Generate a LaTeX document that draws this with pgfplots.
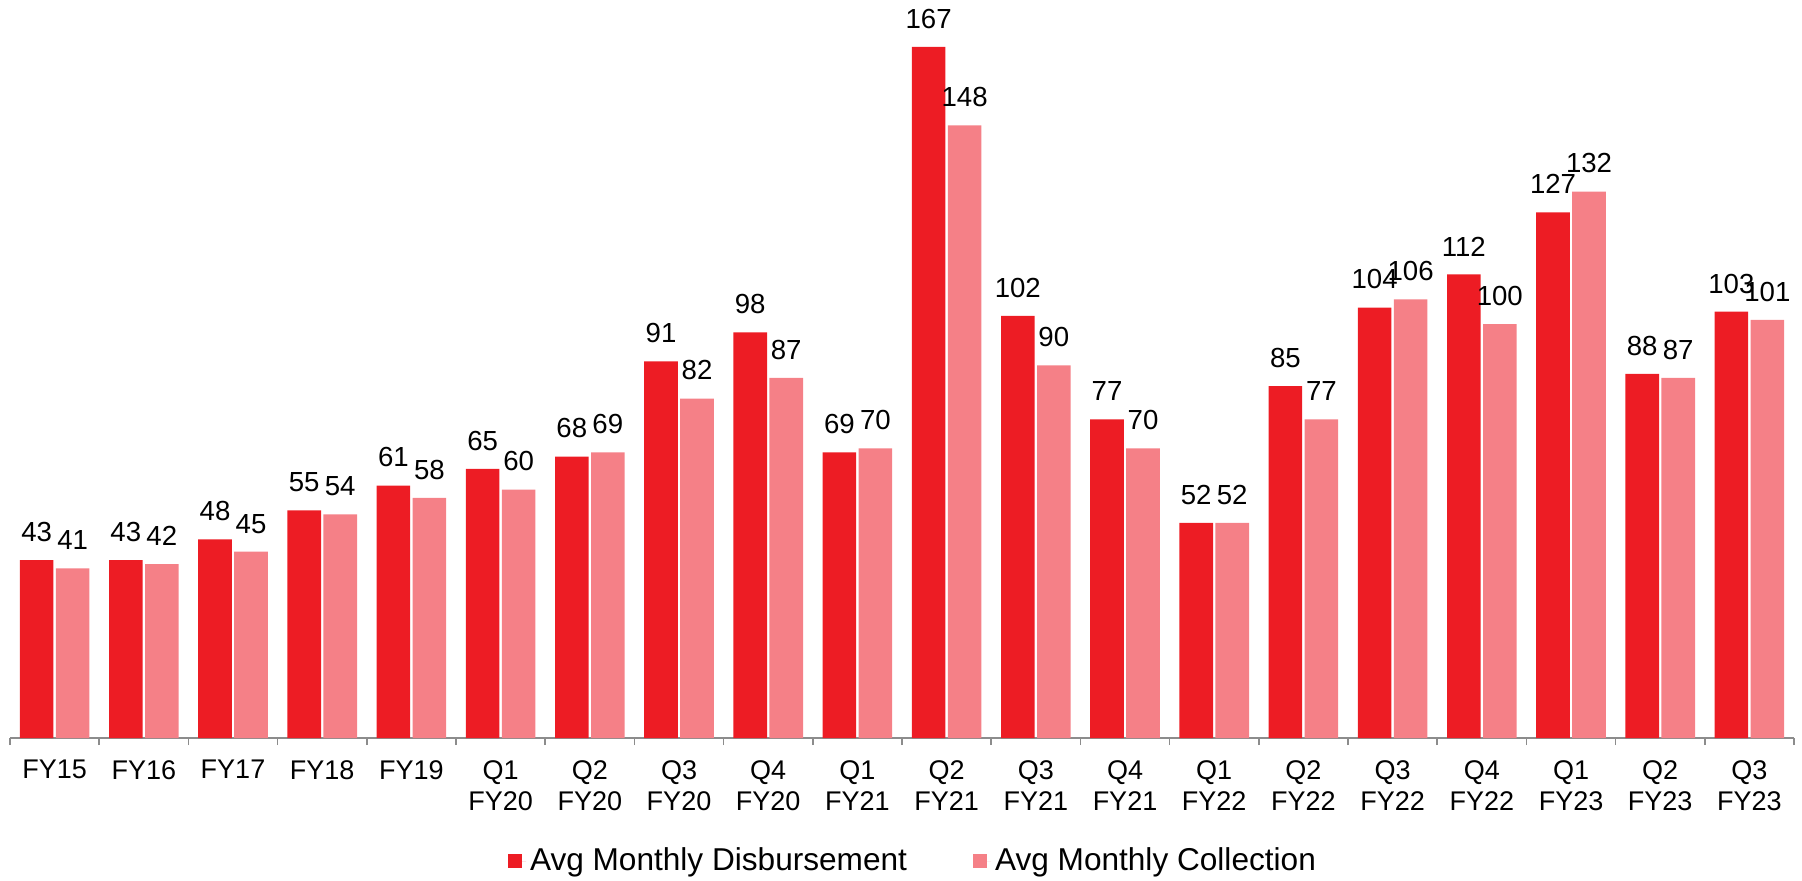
\documentclass[border=0pt]{standalone}
\usepackage{pgfplots}
\pgfplotsset{compat=1.18}
\usepackage{fontspec}
\setmainfont{Liberation Sans}
\definecolor{disb}{HTML}{ED1C24}
\definecolor{coll}{HTML}{F58087}
\definecolor{axgray}{HTML}{8C8C8C}
\begin{document}
\begin{tikzpicture}
\path[use as bounding box] (0,0) rectangle (901pt,440pt);
\begin{axis}[
  at={(5pt,71pt)}, anchor=south west,
  scale only axis,
  width=892pt, height=369pt,
  xmin=-0.5, xmax=19.5,
  ymin=0, ymax=178.3,
  ybar=1.2pt, bar width=16.8pt,
  axis x line*=bottom, axis y line=none,
  axis line style={axgray, line width=0.75pt},
  /pgf/number format/assume math mode=true,
  xtick={0,...,19},
  xticklabels={FY15,FY16,FY17,FY18,FY19,Q1\\FY20,Q2\\FY20,Q3\\FY20,Q4\\FY20,Q1\\FY21,Q2\\FY21,Q3\\FY21,Q4\\FY21,Q1\\FY22,Q2\\FY22,Q3\\FY22,Q4\\FY22,Q1\\FY23,Q2\\FY23,Q3\\FY23},
  xticklabel style={align=center, font=\fontsize{13.5}{15.5}\selectfont, inner sep=0pt, anchor=north, yshift=-11pt},
  major tick length=0pt,
  minor xtick={-0.5,0.5,...,19.5},
  minor tick length=3.5pt,
  tick align=outside,
  minor tick style={axgray, line width=0.75pt},
  nodes near coords={\pgfmathprintnumber[assume math mode=true]{\pgfplotspointmeta}},
  nodes near coords style={font=\fontsize{13.8}{15}\selectfont, anchor=south, inner sep=0pt, yshift=9pt, text=black},
  legend columns=2,
  legend style={at={(0.5067,-0.1667)}, anchor=center, draw=none, fill=none,
    font=\fontsize{15.8}{18}\selectfont,
    /tikz/every even column/.append style={column sep=31pt}},
  legend image code/.code={\path (0pt,0pt) -- (9pt,0pt); \fill[#1] (0pt,-3.5pt) rectangle (7pt,3.5pt);},
]
\addplot[fill=disb, draw=none] coordinates {
(0,43) (1,43) (2,48) (3,55) (4,61) (5,65) (6,68) (7,91) (8,98) (9,69)
(10,167) (11,102) (12,77) (13,52) (14,85) (15,104) (16,112) (17,127) (18,88) (19,103)};
\addlegendentry{Avg Monthly Disbursement}
\addplot[fill=coll, draw=none] coordinates {
(0,41) (1,42) (2,45) (3,54) (4,58) (5,60) (6,69) (7,82) (8,87) (9,70)
(10,148) (11,90) (12,70) (13,52) (14,77) (15,106) (16,100) (17,132) (18,87) (19,101)};
\addlegendentry{Avg Monthly Collection}
\end{axis}
\end{tikzpicture}
\end{document}
